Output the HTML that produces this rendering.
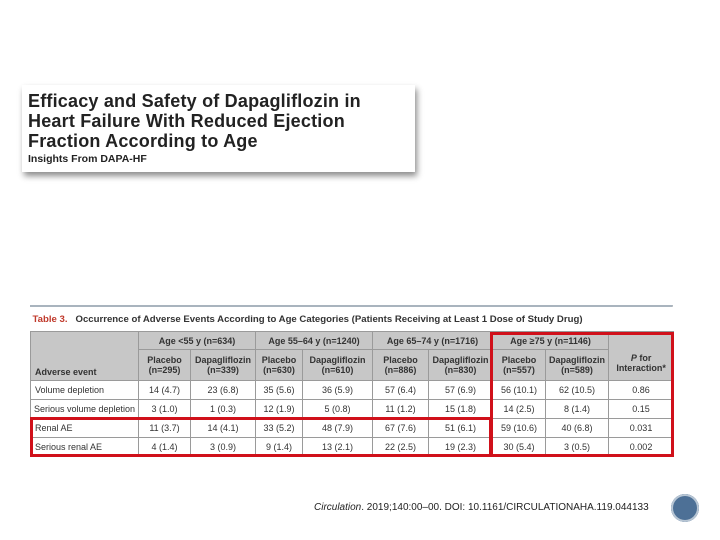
<!DOCTYPE html>
<html><head><meta charset="utf-8"><style>
body{margin:0;width:720px;height:540px;background:#fff;position:relative;overflow:hidden;font-family:"Liberation Sans",sans-serif;}
.hdr{position:absolute;left:22px;top:85px;width:393px;height:87px;background:#fff;box-shadow:2px 4px 6px rgba(0,0,0,.45);}
.hdr .t{position:absolute;left:6px;top:6px;font-size:18px;font-weight:bold;color:#222;line-height:20px;letter-spacing:0.2px;}
.hdr .s{position:absolute;left:6px;top:68px;font-size:10.5px;font-weight:bold;color:#222;}
.tbl{position:absolute;left:30px;top:305px;width:642px;border-top:2px solid #a9b4be;border-right:1px solid #ccc;}
table{border-collapse:collapse;width:643px;font-size:9px;color:#333;table-layout:fixed;}
td{border:1px solid #9a9a9a;text-align:center;padding:0;white-space:nowrap;overflow:hidden;}
.cap td{border:none;text-align:left;font-weight:bold;height:24px;padding-left:2px;background:#fff;font-size:9.6px;}
.g td{background:#c7c7c7;font-weight:bold;}
.d td{height:18px;}
.l{text-align:left;padding-left:4px;}
.red{position:absolute;border:3px solid #d0101a;box-sizing:border-box;}
.cite{position:absolute;left:314px;top:502px;font-size:10px;color:#222;}
.circ{position:absolute;left:671px;top:494px;width:28px;height:28px;border-radius:50%;background:#4d7096;box-shadow:0 0 0 2px #b8c6d4 inset,0 0 0 3px #4d7096 inset;}
</style></head><body>
<div class="hdr">
<div class="t">Efficacy and Safety of Dapagliflozin in<br>Heart Failure With Reduced Ejection<br>Fraction According to Age</div>
<div class="s">Insights From DAPA-HF</div>
</div>
<div class="tbl">
<table>
<colgroup><col style="width:108px"><col style="width:52px"><col style="width:65px"><col style="width:47px"><col style="width:70px"><col style="width:56px"><col style="width:64px"><col style="width:53px"><col style="width:63px"><col style="width:65px"></colgroup>
<tr class="cap"><td colspan="10"><span style="color:#c0392b">Table 3.</span>&nbsp;&nbsp; Occurrence of Adverse Events According to Age Categories (Patients Receiving at Least 1 Dose of Study Drug)</td></tr>
<tr class="g" style="height:18px"><td rowspan="2" class="l" style="vertical-align:bottom;padding-bottom:3px">Adverse event</td><td colspan="2">Age &lt;55 y (n=634)</td><td colspan="2">Age 55–64 y (n=1240)</td><td colspan="2">Age 65–74 y (n=1716)</td><td colspan="2">Age ≥75 y (n=1146)</td><td rowspan="2" style="padding-top:14px"><i>P</i> for<br>Interaction*</td></tr>
<tr class="g" style="height:31px"><td>Placebo<br>(n=295)</td><td>Dapagliflozin<br>(n=339)</td><td>Placebo<br>(n=630)</td><td>Dapagliflozin<br>(n=610)</td><td>Placebo<br>(n=886)</td><td>Dapagliflozin<br>(n=830)</td><td>Placebo<br>(n=557)</td><td>Dapagliflozin<br>(n=589)</td></tr>
<tr class="d"><td class="l">Volume depletion</td><td>14 (4.7)</td><td>23 (6.8)</td><td>35 (5.6)</td><td>36 (5.9)</td><td>57 (6.4)</td><td>57 (6.9)</td><td>56 (10.1)</td><td>62 (10.5)</td><td>0.86</td></tr>
<tr class="d"><td class="l" style="padding-left:3px">Serious volume depletion</td><td>3 (1.0)</td><td>1 (0.3)</td><td>12 (1.9)</td><td>5 (0.8)</td><td>11 (1.2)</td><td>15 (1.8)</td><td>14 (2.5)</td><td>8 (1.4)</td><td>0.15</td></tr>
<tr class="d"><td class="l">Renal AE</td><td>11 (3.7)</td><td>14 (4.1)</td><td>33 (5.2)</td><td>48 (7.9)</td><td>67 (7.6)</td><td>51 (6.1)</td><td>59 (10.6)</td><td>40 (6.8)</td><td>0.031</td></tr>
<tr class="d"><td class="l">Serious renal AE</td><td>4 (1.4)</td><td>3 (0.9)</td><td>9 (1.4)</td><td>13 (2.1)</td><td>22 (2.5)</td><td>19 (2.3)</td><td>30 (5.4)</td><td>3 (0.5)</td><td>0.002</td></tr>
</table></div>
<div class="red" style="left:30px;top:417px;width:462px;height:40px"></div>
<div class="red" style="left:490px;top:332px;width:184px;height:125px"></div>
<div class="cite"><i>Circulation</i>. 2019;140:00–00. DOI: 10.1161/CIRCULATIONAHA.119.044133</div>
<div class="circ"></div>
</body></html>
